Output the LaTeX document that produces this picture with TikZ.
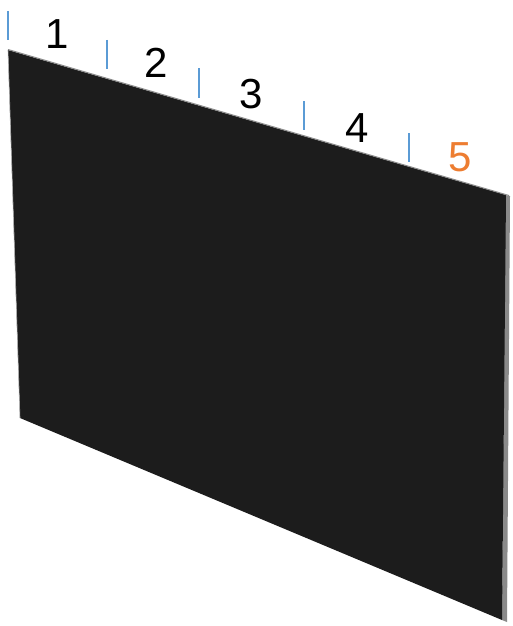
\documentclass[tikz,border=0pt]{standalone}
\usepackage{fontspec}
\setmainfont{Liberation Sans}
\definecolor{tickblue}{HTML}{5B9BD5}
\definecolor{numorange}{HTML}{ED7D31}
\definecolor{panelblack}{HTML}{1C1C1C}
\definecolor{edgegray}{HTML}{8A8A8A}
\begin{document}
\begin{tikzpicture}[x=1pt,y=-1pt,
  tick/.style={draw=tickblue,line width=1.1pt},
  num/.style={font=\fontsize{42}{42}\selectfont,inner sep=0pt,anchor=center},
]
\useasboundingbox (0,0) rectangle (512,626);
% panel thickness (right side)
\fill[edgegray] (505,195) -- (510,196) -- (507,622) -- (502,620) -- cycle;
% panel face
\fill[panelblack] (8,50) -- (506,195) -- (502,620) -- (20,418) -- cycle;
\draw[edgegray,line width=1pt] (8,49.5) -- (509,195.5);
\draw[edgegray!70,line width=0.6pt] (8,50) -- (20,418);
% ticks
\coordinate (t1a) at (8,11);   \coordinate (t1b) at (8,40);
\coordinate (t2a) at (107,40); \coordinate (t2b) at (107,69);
\coordinate (t3a) at (199,68); \coordinate (t3b) at (199,98);
\coordinate (t4a) at (304,101);\coordinate (t4b) at (304,130);
\coordinate (t5a) at (409,133);\coordinate (t5b) at (409,162);
\draw[tick] (t1a) -- (t1b);
\draw[tick] (t2a) -- (t2b);
\draw[tick] (t3a) -- (t3b);
\draw[tick] (t4a) -- (t4b);
\draw[tick] (t5a) -- (t5b);
% numbers
\node[num] (n1) at (57,34) {1};
\node[num] (n2) at (156,63) {2};
\node[num] (n3) at (251,94) {3};
\node[num] (n4) at (357,128) {4};
\node[num,text=numorange] (n5) at (460,157) {5};
\end{tikzpicture}
\end{document}
